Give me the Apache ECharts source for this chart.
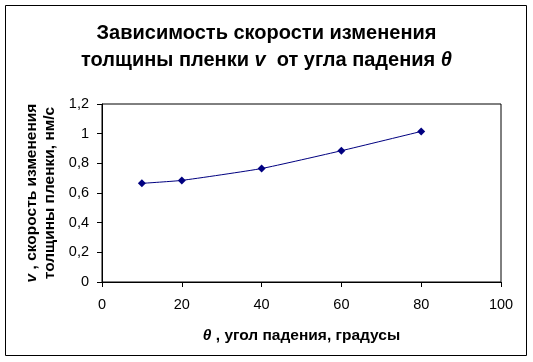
<!DOCTYPE html>
<html>
<head>
<meta charset="utf-8">
<script src="https://cdn.jsdelivr.net/npm/echarts@6/dist/echarts.min.js"></script>
<style>html,body{margin:0;padding:0;background:#fff}#c{width:533px;height:362px}</style>
</head>
<body>
<div id="c"></div>
<script>
const angles = [10, 20, 40, 60, 80];
const rates = [0.665, 0.685, 0.765, 0.885, 1.015];
const xTicks = [0, 20, 40, 60, 80, 100];
const yTicks = [0, 0.2, 0.4, 0.6, 0.8, 1, 1.2];

const chart = echarts.init(document.getElementById('c'), null, {renderer: 'canvas'});
const F = 'Arial, "Liberation Sans", sans-serif';
const fmt = v => String(Math.round(v * 10) / 10).replace('.', ',');
chart.setOption({
  animation: false,
  backgroundColor: '#fff',
  graphic: [{
    type: 'rect', shape: {x: 5.5, y: 5.5, width: 521, height: 350},
    style: {fill: 'none', stroke: '#000', lineWidth: 1}, z: 100
  }],
  title: {
    left: 'center', top: 15,
    text: '{a|Зависимость скорости изменения}\n{a|толщины пленки }{i|v}{a|  от угла падения }{i|θ}',
    textStyle: {
      rich: {
        a: {fontFamily: F, fontSize: 20, fontWeight: 'bold', color: '#000', lineHeight: 27},
        i: {fontFamily: F, fontSize: 20, fontWeight: 'bold', fontStyle: 'italic', color: '#000', lineHeight: 27}
      }
    }
  },
  grid: {left: 102, right: 32, top: 104, bottom: 80, show: true, borderColor: '#000', borderWidth: 1, backgroundColor: 'transparent'},
  xAxis: {
    type: 'value', min: xTicks[0], max: xTicks[xTicks.length - 1], interval: 20,
    axisLine: {lineStyle: {color: '#000', width: 1}},
    axisTick: {show: true, inside: false, length: 5, lineStyle: {color: '#000'}},
    splitLine: {show: false},
    axisLabel: {fontFamily: F, fontSize: 14.5, color: '#000', margin: 15},
    name: '{i|θ}{b| , угол падения, градусы}',
    nameLocation: 'middle', nameGap: 46,
    nameTextStyle: {
      rich: {
        b: {fontFamily: F, fontSize: 15.5, fontWeight: 'bold', color: '#000'},
        i: {fontFamily: F, fontSize: 15.5, fontWeight: 'bold', fontStyle: 'italic', color: '#000'}
      }
    }
  },
  yAxis: {
    type: 'value', min: yTicks[0], max: yTicks[yTicks.length - 1], interval: 0.2,
    axisLine: {show: true, lineStyle: {color: '#000', width: 1}},
    axisTick: {show: true, inside: false, length: 5, lineStyle: {color: '#000'}},
    splitLine: {show: false},
    axisLabel: {fontFamily: F, fontSize: 14.5, color: '#000', margin: 13, formatter: fmt},
    name: '{i|v}{b| , скорость изменения}\n{b|толщины пленки, нм/с}',
    nameLocation: 'middle', nameRotate: 90, nameGap: 40,
    nameTextStyle: {
      rich: {
        b: {fontFamily: F, fontSize: 15.5, fontWeight: 'bold', color: '#000', lineHeight: 18},
        i: {fontFamily: F, fontSize: 15.5, fontWeight: 'bold', fontStyle: 'italic', color: '#000', lineHeight: 18}
      }
    }
  },
  series: [{
    type: 'line',
    data: angles.map((a, i) => [a, rates[i]]),
    smooth: 0.15,
    lineStyle: {color: '#000080', width: 1},
    itemStyle: {color: '#000080'},
    symbol: 'diamond', symbolSize: 8, showSymbol: true
  }]
});
</script>
</body>
</html>
